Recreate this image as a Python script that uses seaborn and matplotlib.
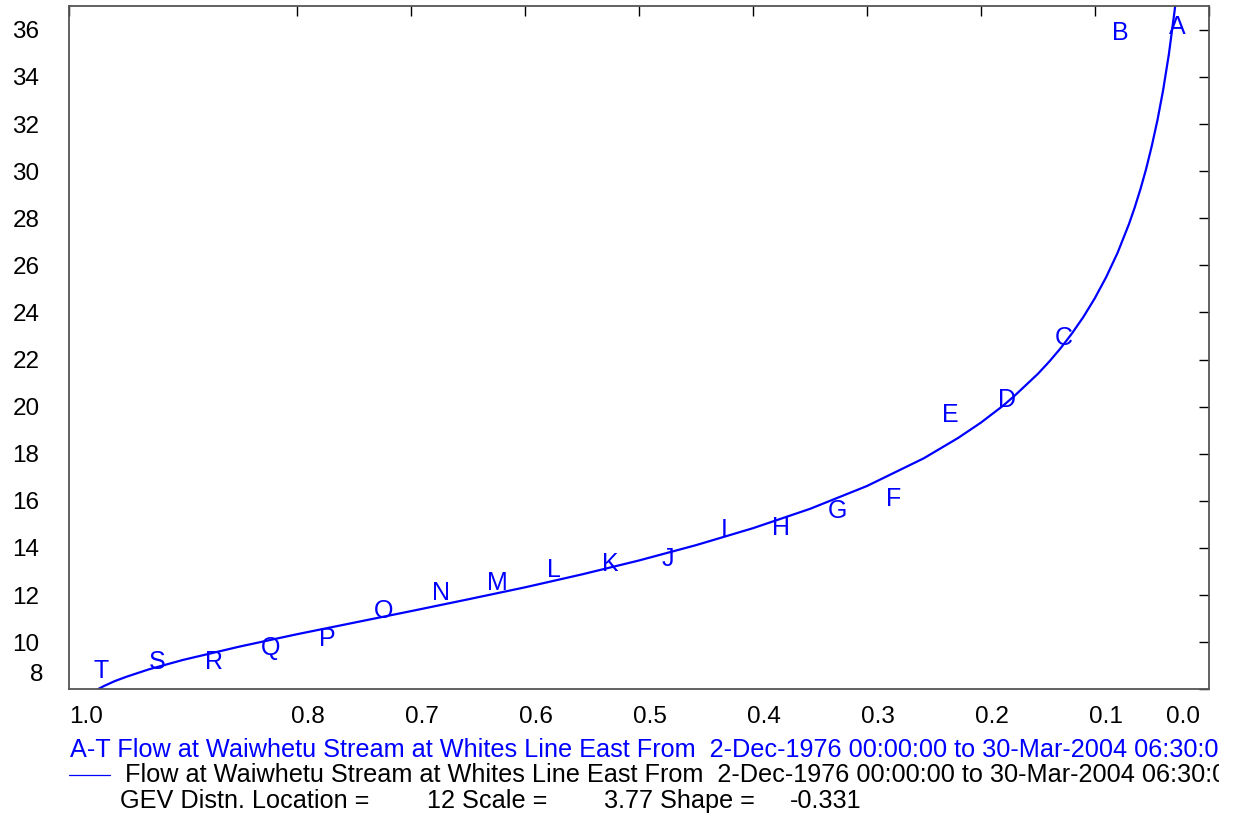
"""
GEV probability plot for Waiwhetu Stream annual maximum flows.
"""

import matplotlib
matplotlib.use("Agg")
import matplotlib.pyplot as plt
from matplotlib.transforms import ScaledTranslation, Bbox, TransformedBbox
import seaborn as sns

sns.set_style("white")
plt.rcParams["font.family"] = ["Liberation Sans", "DejaVu Sans"]

# ranked annual maxima (A = largest), exceedance probability (Gringorten)
labels = list("ABCDEFGHIJKLMNOPQRST")
point_exceed = [0.0278, 0.0775, 0.1272, 0.1769, 0.2266, 0.2763, 0.3260, 0.3757,
                0.4254, 0.4751, 0.5249, 0.5746, 0.6243, 0.6740, 0.7237, 0.7734,
                0.8231, 0.8728, 0.9225, 0.9722]
point_flow = [36.21, 35.97, 23.00, 20.36, 19.72, 16.18, 15.64, 14.93, 14.84, 13.61,
              13.42, 13.14, 12.60, 12.19, 11.40, 10.22, 9.85, 9.24, 9.24, 8.85]

# fitted GEV curve
curve_exceed = [0.985, 0.98, 0.975, 0.97, 0.96, 0.95, 0.93, 0.90, 0.85, 0.80,
                0.75, 0.70, 0.65, 0.60, 0.55, 0.50, 0.45, 0.40, 0.35, 0.30,
                0.25, 0.22, 0.20, 0.18, 0.17, 0.15, 0.14, 0.13, 0.12, 0.11,
                0.10, 0.09, 0.08, 0.07, 0.065, 0.06, 0.055, 0.05, 0.045, 0.04,
                0.035, 0.03, 0.028]
curve_flow = [7.69, 7.86, 8.00, 8.13, 8.35, 8.53, 8.85, 9.25, 9.82, 10.34,
              10.83, 11.32, 11.82, 12.33, 12.88, 13.47, 14.12, 14.84, 15.66, 16.63,
              17.81, 18.67, 19.32, 20.06, 20.48, 21.39, 21.91, 22.48, 23.11, 23.81,
              24.60, 25.50, 26.53, 27.75, 28.45, 29.22, 30.08, 31.06, 32.16, 33.44,
              34.95, 36.78, 37.63]

x_ticks = [1.0, 0.8, 0.7, 0.6, 0.5, 0.4, 0.3, 0.2, 0.1, 0.0]
x_ticklabels = ["1.0", "0.8", "0.7", "0.6", "0.5", "0.4", "0.3", "0.2", "0.1", "0.0"]
y_ticks = list(range(8, 37, 2))

series_title = ("A-T Flow at Waiwhetu Stream at Whites Line East From  "
                "2-Dec-1976 00:00:00 to 30-Mar-2004 06:30:00")
curve_title = ("Flow at Waiwhetu Stream at Whites Line East From  "
               "2-Dec-1976 00:00:00 to 30-Mar-2004 06:30:00")
gev_params = ["GEV Distn. Location =", "12 Scale =", "3.77 Shape =", "-0.331"]

BLUE = "#0000FF"
W, H = 1237, 818

fig = plt.figure(figsize=(W / 100, H / 100), dpi=100)
ax = fig.add_axes([69.3 / W, 1 - 689.3 / H, (1208.7 - 69.3) / W, (689.3 - 6.3) / H])

sns.lineplot(x=curve_exceed, y=curve_flow, ax=ax, color=BLUE, linewidth=1.6,
             sort=False, estimator=None)

# letters centred on their points
down = ScaledTranslation(0, -9.0 / 100, fig.dpi_scale_trans)
for lab, p, q in zip(labels, point_exceed, point_flow):
    ax.text(p, q, lab, color=BLUE, fontsize=18, ha="center", va="baseline",
            transform=ax.transData + down)

ax.set_xlim(1.0, 0.0)
ax.set_ylim(8, 37)
ax.set_xticks(x_ticks)
ax.set_xticklabels(x_ticklabels)
ax.set_yticks(y_ticks)
ax.set_xlabel("")
ax.set_ylabel("")
ax.tick_params(direction="in", length=7.5, width=1, color="black",
               top=True, right=True, labelsize=17.5, labelcolor="black")
ax.tick_params(axis="y", pad=21.5)
ax.tick_params(axis="x", pad=12)
for s in ax.spines.values():
    s.set_color("#555555")
    s.set_linewidth(1.3)

fig.canvas.draw()


def shift(label, dx, dy):
    label.set_transform(label.get_transform()
                        + ScaledTranslation(dx / 100, dy / 100, fig.dpi_scale_trans))


# end labels sit inside the frame, the rest are nudged right of their ticks
xl = ax.get_xticklabels()
for i, lab in enumerate(xl):
    if i == 0:
        shift(lab, 17, 0)
    elif i == len(xl) - 1:
        shift(lab, -26, 0)
    else:
        shift(lab, 11, 0)
shift(ax.get_yticklabels()[0], 4, 16.6)

# legend block under the plot, cut off on the right like the original
clip = TransformedBbox(Bbox([[0, 0], [1219 / W, 1]]), fig.transFigure)
t1 = fig.text(70 / W, 1 - 757.3 / H, series_title, color=BLUE, fontsize=18.2,
              va="baseline")
fig.add_artist(plt.Line2D([69 / W, 110 / W], [1 - 775 / H, 1 - 775 / H],
                          color=BLUE, linewidth=0.9))
t2 = fig.text(125 / W, 1 - 782.3 / H, curve_title, color="black", fontsize=18.2,
              va="baseline")
for t in (t1, t2):
    t.set_clip_box(clip)
    t.set_clip_on(True)
for txt, xp in zip(gev_params, [120, 427, 604, 790]):
    fig.text(xp / W, 1 - 807.7 / H, txt, color="black", fontsize=18.2, va="baseline")

fig.savefig("out.png", dpi=100)
